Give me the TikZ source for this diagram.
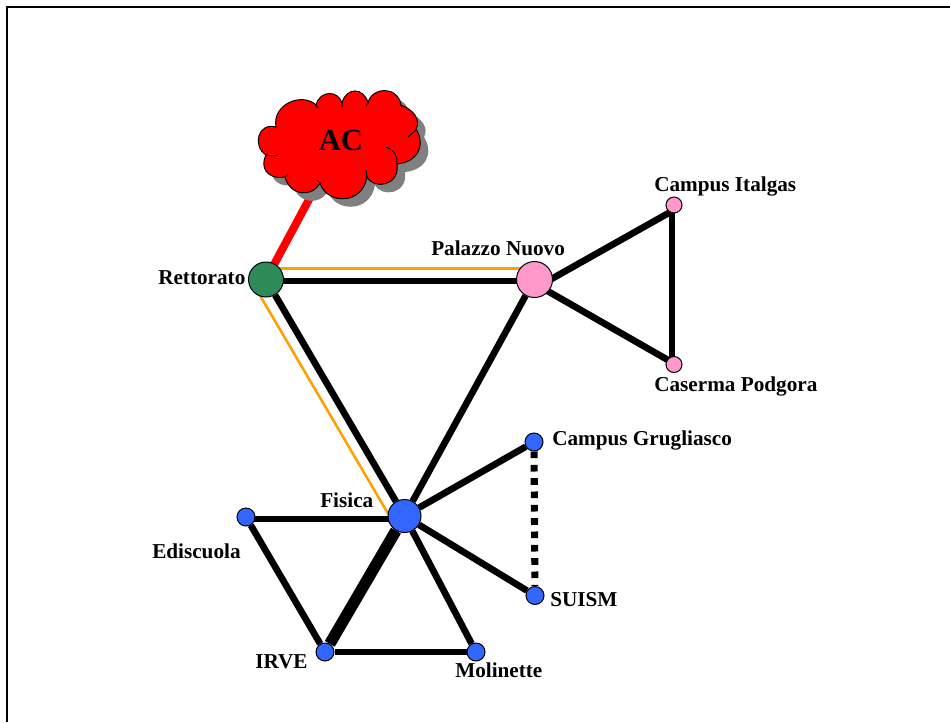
\documentclass[tikz,border=0pt]{standalone}
\usepackage{fontspec}
\setmainfont{Liberation Serif}
\usetikzlibrary{backgrounds,calc}
\tikzset{
  x=0.75pt,y=-0.75pt,
  site/.style={circle,draw=black,line width=0.75pt,inner sep=0pt,minimum size=#1*0.75pt},
  lab/.style={font=\fontsize{15.9}{18}\selectfont\bfseries,inner sep=0pt,anchor=base west,text=black},
  link/.style={draw=black,line width=5pt},
  fat/.style={draw=black,line width=8.6pt},
  backup/.style={draw=lineorange,line width=1.9pt},
  uplink/.style={draw=red,line width=6pt},
  dots/.style={draw=black,line width=5.3pt,dash pattern=on 5pt off 5pt},
}
\definecolor{lineorange}{RGB}{255,160,0}
\definecolor{bluesite}{RGB}{51,102,255}
\definecolor{pinksite}{RGB}{255,153,204}
\definecolor{greensite}{RGB}{46,139,87}
\definecolor{cloudshadow}{RGB}{128,128,128}
\newcommand{\cloudpath}{
  (276,127) .. controls (272,104) and (302,92) .. (316,105)
  .. controls (320,90) and (338,90) .. (342,103)
  .. controls (346,87) and (364,87) .. (368,103)
  .. controls (372,86) and (398,86) .. (401,105)
  .. controls (414,110) and (421,120) .. (416,129)
  .. controls (426,145) and (418,162) .. (397,164)
  .. controls (400,186) and (374,190) .. (367,177)
  .. controls (362,206) and (326,204) .. (320,183)
  .. controls (312,198) and (290,196) .. (285,177)
  .. controls (266,180) and (260,166) .. (266,155)
  .. controls (252,146) and (258,122) .. (276,127) -- cycle}
\begin{document}
\begin{tikzpicture}
\useasboundingbox (0,0) rectangle (950,722);
\begin{scope}[on background layer]
\fill[white] (0,0) rectangle (950,722);
\draw[black,line width=1.5pt] (7,722) -- (7,7) -- (950,7);
\end{scope}
% cloud
\fill[cloudshadow,shift={(8,8)}] \cloudpath;
\draw[fill=red,draw=black,line width=0.75pt] \cloudpath;
\draw[black,line width=0.75pt]
  (386,147) .. controls (395,150) and (398,158) .. (397,164)
  (416,130) -- (408,137)
  (266,155) .. controls (270,156) and (274,156) .. (278,155)
  (316,105) -- (318,108) (342,103) -- (342,107) (368,103) -- (366,106)
  (401,105) -- (402,108) (367,177) -- (366,170) (320,183) -- (317,180)
  (285,177) -- (288,174);
\node[font=\fontsize{23}{26}\selectfont\bfseries,inner sep=0pt] (ac) at (341,140) {AC};
% sites
\node[site=35,fill=greensite] (rett) at (266,279.5) {};
\node[site=36,fill=pinksite] (pn) at (534.5,279.5) {};
\node[site=16,fill=pinksite] (ital) at (674,205) {};
\node[site=16,fill=pinksite] (podg) at (674,364.5) {};
\node[site=33,fill=bluesite] (fis) at (404.5,516) {};
\node[site=18,fill=bluesite] (grug) at (534,442) {};
\node[site=18,fill=bluesite] (suism) at (535,595.5) {};
\node[site=18,fill=bluesite] (edis) at (246,517) {};
\node[site=18,fill=bluesite] (irve) at (325,652) {};
\node[site=18,fill=bluesite] (moli) at (476,652) {};
% links
\begin{scope}[on background layer]
\draw[uplink] (rett.center) -- (ac.center);
\draw[backup] ($(rett.center)+(0,-11)$) -- ($(pn.center)+(0,-11)$);
\draw[backup] ($(rett.center)+(-6,16)$) -- ($(fis.center)+(-15,0)$);
\draw[link] ($(rett.center)+(0,1.5)$) -- ($(pn.center)+(0,1.5)$);
\draw[link] (rett) -- (fis);
\draw[link] (pn) -- (fis);
\draw[link] ($(pn.center)+(0,9)$) -- ($(ital.center)+(0,5)$);
\draw[link] ($(pn.center)+(0,4)$) -- ($(podg.center)+(0,-1)$);
\draw[link] ($(ital.center)+(-2,0)$) -- ($(podg.center)+(-2,0)$);
\draw[link] (fis) -- (grug);
\draw[link] (fis) -- (suism);
\draw[dots] (grug) -- (suism);
\draw[link] ($(fis.center)+(0,3)$) -- ($(edis.center)+(0,2)$);
\draw[link] (edis) -- (irve);
\draw[fat] (fis) -- (irve);
\draw[link] (fis) -- (moli);
\draw[link] (irve) -- (moli);
\end{scope}
% labels
\node[lab] (l1) at (158,284) {Rettorato};
\node[lab] (l2) at (431,255) {Palazzo Nuovo};
\node[lab] (l3) at (654,191) {Campus Italgas};
\node[lab] (l4) at (654,391) {Caserma Podgora};
\node[lab] (l5) at (552,445) {Campus Grugliasco};
\node[lab] (l6) at (320,507) {Fisica};
\node[lab] (l7) at (152,558) {Ediscuola};
\node[lab] (l8) at (550,606) {SUISM};
\node[lab] (l9) at (255,668) {IRVE};
\node[lab] (l10) at (455,677) {Molinette};
\end{tikzpicture}
\end{document}
